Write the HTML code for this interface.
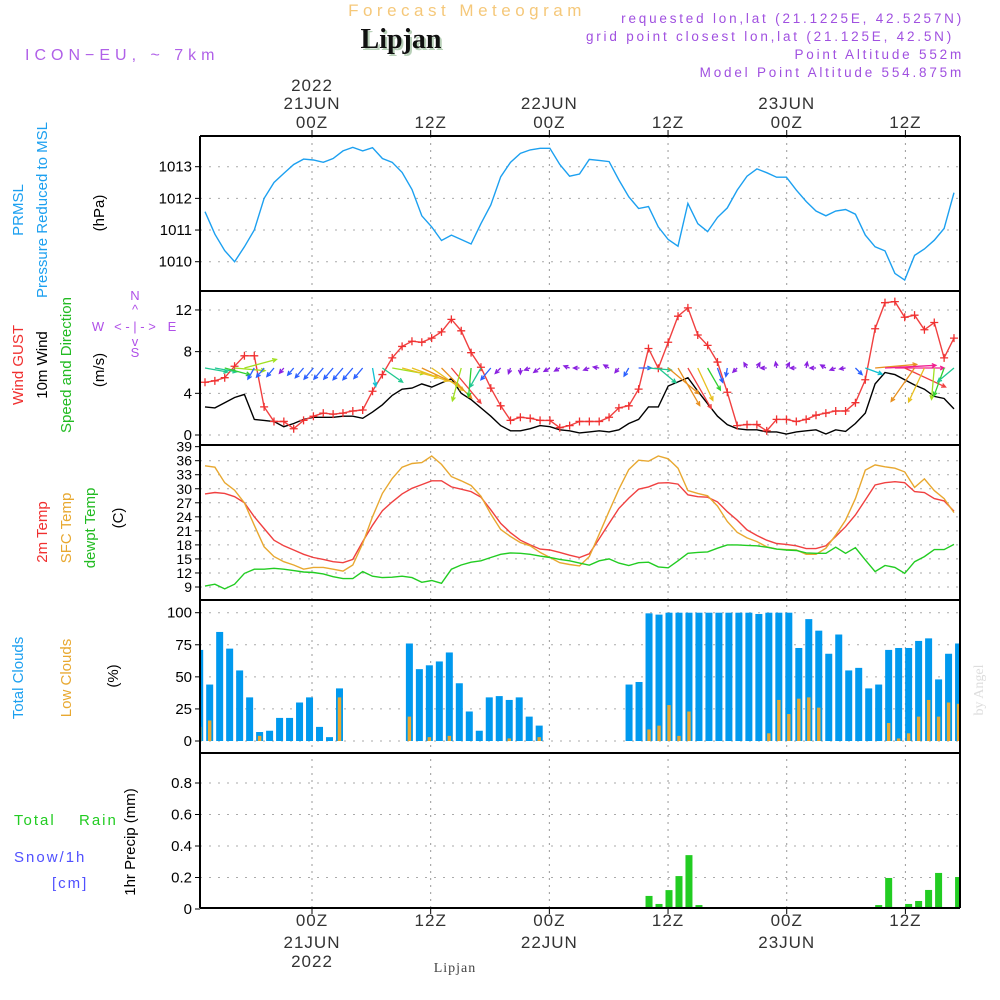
<!DOCTYPE html>
<html><head><meta charset="utf-8">
<style>
html,body{margin:0;padding:0;background:#fff;}
svg{display:block;font-family:"Liberation Sans",sans-serif;}
</style></head>
<body>
<svg id="chart" width="1000" height="1000" viewBox="0 0 1000 1000" xmlns="http://www.w3.org/2000/svg">
<g>
<text x="467" y="16" text-anchor="middle" font-size="17" fill="#f5c87a" letter-spacing="4.5">Forecast Meteogram</text>
<text x="403" y="50" text-anchor="middle" font-size="28" font-weight="bold" font-family="Liberation Serif,serif" fill="#b8d0b8">Lipjan</text>
<text x="401" y="48" text-anchor="middle" font-size="28" font-weight="bold" font-family="Liberation Serif,serif" fill="#111">Lipjan</text>
<text x="25" y="60" font-size="16" fill="#b060e8" letter-spacing="5">ICON−EU, ~ 7km</text>
<g font-size="13.5" fill="#a050e0" text-anchor="end" letter-spacing="2.8">
<text x="964" y="23">requested lon,lat (21.1225E, 42.5257N)</text>
<text x="954" y="41">grid point closest lon,lat (21.125E, 42.5N)</text>
<text x="964" y="59">Point Altitude 552m</text>
<text x="964" y="77">Model Point Altitude 554.875m</text>
</g>
</g>
<g id="main"></g>
<g font-size="15" text-anchor="middle">
<text transform="translate(23,210) rotate(-90)" fill="#1ca0f0">PRMSL</text>
<text transform="translate(47,210) rotate(-90)" fill="#1ca0f0">Pressure Reduced to MSL</text>
<text transform="translate(104,213) rotate(-90)" fill="#000">(hPa)</text>
<text transform="translate(23,365) rotate(-90)" fill="#f03030">Wind GUST</text>
<text transform="translate(47,365) rotate(-90)" fill="#000">10m Wind</text>
<text transform="translate(71,365) rotate(-90)" fill="#22bb22">Speed and Direction</text>
<text transform="translate(104,370) rotate(-90)" fill="#000">(m/s)</text>
<text transform="translate(47,532) rotate(-90)" fill="#f03030">2m Temp</text>
<text transform="translate(71,528) rotate(-90)" fill="#e8a830">SFC Temp</text>
<text transform="translate(95,528) rotate(-90)" fill="#22bb22">dewpt Temp</text>
<text transform="translate(123,518) rotate(-90)" fill="#000">(C)</text>
<text transform="translate(23,678) rotate(-90)" fill="#1ca0f0">Total Clouds</text>
<text transform="translate(71,678) rotate(-90)" fill="#e8a830">Low Clouds</text>
<text transform="translate(118,676) rotate(-90)" fill="#000">(%)</text>
<text transform="translate(135,842) rotate(-90)" fill="#000">1hr Precip (mm)</text>
<text x="14" y="825" text-anchor="start" fill="#22cc22" letter-spacing="2">Total</text>
<text x="79" y="825" text-anchor="start" fill="#22cc22" letter-spacing="2">Rain</text>
<text x="14" y="862" text-anchor="start" fill="#5050ff" letter-spacing="2">Snow/1h</text>
<text x="52" y="888" text-anchor="start" fill="#5050ff" letter-spacing="2">[cm]</text>
</g>
<g font-size="13" fill="#b050e8" text-anchor="middle">
<text x="135" y="300">N</text>
<text x="135" y="314">^</text>
<text x="98" y="331">W</text>
<text x="135" y="331">&lt; - | - &gt;</text>
<text x="172" y="331">E</text>
<text x="135" y="346">v</text>
<text x="135" y="357">S</text>
</g>
<text transform="translate(983,690) rotate(-90)" font-size="14" font-family="Liberation Serif,serif" fill="#dddddd" text-anchor="middle">by Angel</text>
<text x="455" y="972" font-size="14" font-family="Liberation Serif,serif" fill="#444" text-anchor="middle" letter-spacing="1">Lipjan</text>
</svg>
<script>
const pressure=[1011.58,1010.87,1010.35,1010.0,1010.47,1011.0,1012.0,1012.5,1012.79,1013.07,1013.24,1013.21,1013.14,1013.26,1013.5,1013.61,1013.5,1013.6,1013.26,1013.14,1012.82,1012.28,1011.45,1011.1,1010.67,1010.84,1010.7,1010.56,1011.2,1011.79,1012.68,1013.14,1013.42,1013.53,1013.58,1013.58,1013.07,1012.7,1012.77,1013.23,1013.2,1013.16,1012.58,1012.05,1011.68,1011.74,1011.1,1010.7,1010.49,1011.84,1011.2,1010.95,1011.4,1011.7,1012.26,1012.7,1012.93,1012.81,1012.67,1012.67,1012.26,1011.9,1011.6,1011.45,1011.6,1011.65,1011.5,1010.84,1010.47,1010.34,1009.63,1009.42,1010.2,1010.4,1010.68,1011.05,1012.18];
const gust=[5.06,5.2,5.5,6.6,7.6,7.6,2.7,1.3,1.3,0.6,1.4,1.8,2.1,2.0,2.1,2.3,2.4,4.2,5.8,7.4,8.5,9.0,8.9,9.3,9.9,11.1,10.0,7.9,6.5,4.5,2.8,1.4,1.7,1.6,1.4,1.4,0.7,0.9,1.3,1.3,1.3,1.7,2.6,2.8,4.4,8.3,6.4,8.9,11.4,12.2,9.6,8.6,7.0,4.1,0.9,1.0,1.0,0.4,1.5,1.5,1.3,1.5,1.9,2.1,2.3,2.3,3.1,5.3,10.2,12.7,12.8,11.3,11.5,10.1,10.8,7.4,9.3];
const wind=[2.7,2.6,3.1,3.6,3.9,1.5,1.4,1.3,0.8,1.1,1.5,1.7,1.7,1.7,1.8,1.8,1.6,2.2,2.9,3.8,4.4,4.5,4.9,4.6,5.0,5.4,4.0,3.4,2.6,1.8,0.9,0.4,0.4,0.6,0.9,0.8,0.5,0.4,0.2,0.3,0.4,0.3,0.5,1.1,1.5,2.7,2.7,4.7,5.1,5.5,4.2,3.0,1.8,1.0,0.6,0.5,0.5,0.3,0.3,0.1,0.3,0.4,0.5,0.1,0.5,0.35,1.1,2.1,4.9,6.0,5.8,5.3,4.8,4.4,3.7,3.5,2.5];
const windDir=[10,10,15,5,-15,120,130,130,130,130,130,130,130,130,130,130,130,80,35,10,15,20,25,35,45,50,105,95,120,130,135,110,90,160,145,150,150,200,180,160,-170,-150,130,120,0,5,40,40,60,60,65,60,70,100,135,-120,-60,180,-100,-60,180,-80,180,-150,160,170,45,20,-5,-3,0,25,125,115,95,110,140];
const temp2m=[28.9,29.2,29.0,28.3,27.0,24.0,21.5,19.0,17.8,16.9,16.0,15.3,14.9,14.4,14.2,14.9,18.7,22.2,25.3,27.2,28.9,30.1,30.9,31.7,31.7,30.4,29.9,29.4,28.2,25.5,22.6,20.6,19.0,18.0,17.1,16.9,16.4,15.8,15.3,16.1,19.3,22.6,25.8,28.0,29.9,30.4,31.2,31.3,31.0,28.7,28.3,28.2,27.2,25.1,23.3,21.2,20.0,19.0,18.3,18.1,17.8,17.2,17.2,17.8,19.8,21.9,24.4,27.6,30.8,31.3,31.5,31.3,29.4,29.2,27.9,27.4,25.2];
const tempSfc=[34.9,34.6,31.3,29.7,27.0,22.2,17.6,15.5,14.4,13.7,12.8,13.2,13.2,12.8,12.4,13.7,18.3,24.0,29.0,32.2,34.6,35.4,35.6,37.0,35.2,32.6,31.7,30.7,28.4,24.6,21.3,19.8,18.5,17.8,16.4,15.3,14.2,13.8,13.5,15.5,20.3,25.2,29.9,34.1,36.1,35.9,37.0,36.4,34.4,29.6,29.0,28.5,26.3,23.0,20.7,19.5,18.7,17.6,17.1,17.0,16.9,16.0,16.0,17.3,20.1,23.3,27.9,34.0,35.1,34.7,34.4,33.6,30.3,32.1,29.6,27.9,24.9];
const dewpt=[9.2,9.6,8.6,9.6,11.9,12.8,12.8,13.0,12.8,12.5,12.2,12.1,11.8,11.2,10.8,10.8,12.3,11.3,11.0,11.1,11.3,11.0,10.0,10.4,9.8,12.8,13.7,14.3,14.6,15.3,16.0,16.3,16.2,16.0,15.6,15.3,14.9,14.6,14.1,13.65,14.6,15.0,14.1,13.6,14.2,14.3,13.3,13.1,14.6,16.2,16.4,16.5,17.3,18.0,18.0,17.9,17.8,17.5,17.1,16.9,16.8,16.3,16.2,16.2,17.5,16.2,17.4,14.8,12.3,13.6,13.2,11.9,14.4,15.5,17.0,17.0,18.1];
const totalClouds=[71,44,85,72,55,34,7,8,18,18,30,34,11,3,41,0,0,0,0,0,0,76,56,59,62,69,45,23,8,34,35,32,34,19,12,0,0,0,0,0,0,0,0,44,46,99.5,98.5,100,100,100,100,100,100,100,100,100,99,100,100,100,72.5,95,86,68,83,55,57,41,44,71,72.5,72.5,78,80,48,68,76];
const lowClouds=[11,16,0,0,0,0,4,0,0,0,0,0,0,0,34,0,0,0,0,0,0,19,0,3,0,4,0,0,0,0,0,2,0,0,3,0,0,0,0,0,0,0,0,0,0,9,12,28,4,23,0,0,0,0,0,0,0,6,32,21,33,34,26,0,0,0,0,0,0,14,2,6,19,32,19,30,29];
const rain=[0,0,0,0,0,0,0,0,0,0,0,0,0,0,0,0,0,0,0,0,0,0,0,0,0,0,0,0,0,0,0,0,0,0,0,0,0,0,0,0,0,0,0,0,0,0.083,0.032,0.12,0.209,0.342,0.025,0,0,0,0,0,0,0,0,0,0,0,0,0,0,0,0,0,0.025,0.197,0,0.032,0.051,0.121,0.229,0,0.203];
const pTicks=[1013,1012,1011,1010];
const wTicks=[12,8,4,0];
const tTicks=[39,36,33,30,27,24,21,18,15,12,9];
const cTicks=[100,75,50,25,0];
const rTicks=[0.8,0.6,0.4,0.2,0];
const timeLabelsTop=[["2022","21JUN","00Z"],["","","12Z"],["","22JUN","00Z"],["","","12Z"],["","23JUN","00Z"],["","","12Z"]];
const timeLabelsBottom=[["00Z","21JUN","2022"],["12Z","",""],["00Z","22JUN",""],["12Z","",""],["00Z","23JUN",""],["12Z","",""]];
const timeHours=[0,12,24,36,48,60];

const NS="http://www.w3.org/2000/svg";
const root=document.getElementById('main');
function mk(tag,attrs,parent){const e=document.createElementNS(NS,tag);for(const k in attrs)e.setAttribute(k,attrs[k]);(parent||root).appendChild(e);return e;}
const X0=200,X1=960;
const xLine=i=>205+9.855*i;
const xBar=i=>199.7+9.985*i;
const xTime=h=>312+h*9.89;
const yP=v=>166.7+(1013-v)*31.67;
const yW=v=>435-v*10.42;
const yT=v=>587-(v-9)*4.678;
const yC=v=>741-v*1.283;
const yR=v=>909-v*157.5;
const panels=[[136,291,pTicks,yP,v=>String(v)],[291,445,wTicks,yW,v=>String(v)],[445,600,tTicks,yT,v=>String(v)],[600,753,cTicks,yC,v=>String(v)],[753,908,rTicks,yR,v=>v===0?"0":v.toFixed(1)]];
const clip=mk('clipPath',{id:'pc'});mk('rect',{x:X0,y:136,width:X1-X0,height:772},clip);
panels.forEach((p,pi)=>{
  p[2].forEach(t=>{
    const y=p[3](t);
    if(y>p[0]+2&&y<p[1]-2){const g=mk('line',{x1:X0,x2:X1,y1:y,y2:y,stroke:'#aaa','stroke-dasharray':'2,7'});
    
    }
    const tk=mk('line',{x1:195,x2:X0,y1:y,y2:y,stroke:'#000'});
    
    
    const lb=mk('text',{x:192,y:y+5,'text-anchor':'end','font-size':pi===2?14:15,fill:'#000'});
    lb.textContent=p[4](t);
    
    
  });
});
timeHours.forEach((h,k)=>{
  const x=xTime(h);
  const v=mk('line',{x1:x,x2:x,y1:136,y2:908,stroke:'#999','stroke-dasharray':'2,5'});
  
  
  const t1=mk('line',{x1:x,x2:x,y1:130,y2:136,stroke:'#000'});
  
  
  const t2=mk('line',{x1:x,x2:x,y1:908,y2:914,stroke:'#000'});
  
  
  timeLabelsTop[k].forEach((s,r)=>{if(!s)return;const t=mk('text',{x:x,y:[91,109,128][r],'text-anchor':'middle','font-size':17,fill:'#333','letter-spacing':1});t.textContent=s;
    
    });
  timeLabelsBottom[k].forEach((s,r)=>{if(!s)return;const t=mk('text',{x:x,y:[926,948,967][r],'text-anchor':'middle','font-size':17,fill:'#333','letter-spacing':1});t.textContent=s;
    
    });
});
function poly(arr,ys,color,name){
  const pts=arr.map((v,i)=>xLine(i).toFixed(1)+','+ys(v).toFixed(1)).join(' ');
  const e=mk('polyline',{points:pts,fill:'none',stroke:color,'stroke-width':1.4,'clip-path':'url(#pc)'});
  
  
  return e;
}
totalClouds.forEach((v,i)=>{if(v<=0)return;const x=xBar(i);const l=Math.max(X0,x-3.5),r=Math.min(X1,x+3.5);if(r<=l)return;
  const b=mk('rect',{x:l,y:yC(v),width:r-l,height:yC(0)-yC(v),fill:'#0099ee'});
  
  });
lowClouds.forEach((v,i)=>{if(v<=0)return;const x=xBar(i);const l=Math.max(X0,x-1.7),r=Math.min(X1,x+1.7);if(r<=l)return;
  const b=mk('rect',{x:l,y:yC(v),width:r-l,height:yC(0)-yC(v),fill:'#e8a830'});
  
  });
rain.forEach((v,i)=>{if(v<=0)return;const x=xBar(i);const l=Math.max(X0,x-3.5),r=Math.min(X1,x+3.5);if(r<=l)return;
  const b=mk('rect',{x:l,y:yR(v),width:r-l,height:yR(0)-yR(v),fill:'#22cc22'});
  
  });
poly(pressure,yP,'#1ca0f0','pressure-line');
poly(temp2m,yT,'#f04040','temp-2m-line');
poly(tempSfc,yT,'#e8a830','sfc-temp-line');
poly(dewpt,yT,'#22cc22','dewpt-line');
poly(wind,yW,'#000','wind-speed-line');
poly(gust,yW,'#f04040','wind-gust-line');
gust.forEach((v,i)=>{const x=xLine(i),y=yW(v);
  const m=mk('path',{d:`M${x-4},${y}H${x+4}M${x},${y-4}V${y+4}`,stroke:'#f03030','stroke-width':1.3});
  
  });
function windColor(s){if(s<1)return '#8a20e0';if(s<2)return '#2a60ff';if(s<2.5)return '#10c0d0';if(s<3)return '#20c890';if(s<3.6)return '#30d030';if(s<4.2)return '#a0e020';if(s<4.7)return '#e8c020';if(s<5.2)return '#e89020';if(s<5.6)return '#f04040';return '#f02090';}
windDir.forEach((d,i)=>{
  const s=wind[i];const L=Math.max(6,8.5*s);const a=d*Math.PI/180;
  const x=xLine(i),y=368;const x2=x+L*Math.cos(a),y2=y+L*Math.sin(a);
  const h=4.5,a1=a+Math.PI-0.45,a2=a+Math.PI+0.45;
  const c=windColor(s);
  const e=mk('path',{d:`M${x},${y}L${x2},${y2}M${x2+h*Math.cos(a1)},${y2+h*Math.sin(a1)}L${x2},${y2}L${x2+h*Math.cos(a2)},${y2+h*Math.sin(a2)}`,stroke:c,fill:'none','stroke-width':1.3,'clip-path':'url(#pc)'});
  
  
});
[136,291,445,600,753,908].forEach(y=>{const l=mk('line',{x1:X0,x2:X1,y1:y,y2:y,stroke:'#000','stroke-width':2});
  
  });
const fl=mk('line',{x1:X0,x2:X0,y1:136,y2:908,stroke:'#000','stroke-width':2});


const fr=mk('line',{x1:X1,x2:X1,y1:136,y2:908,stroke:'#000','stroke-width':2});


</script>
</body></html>
